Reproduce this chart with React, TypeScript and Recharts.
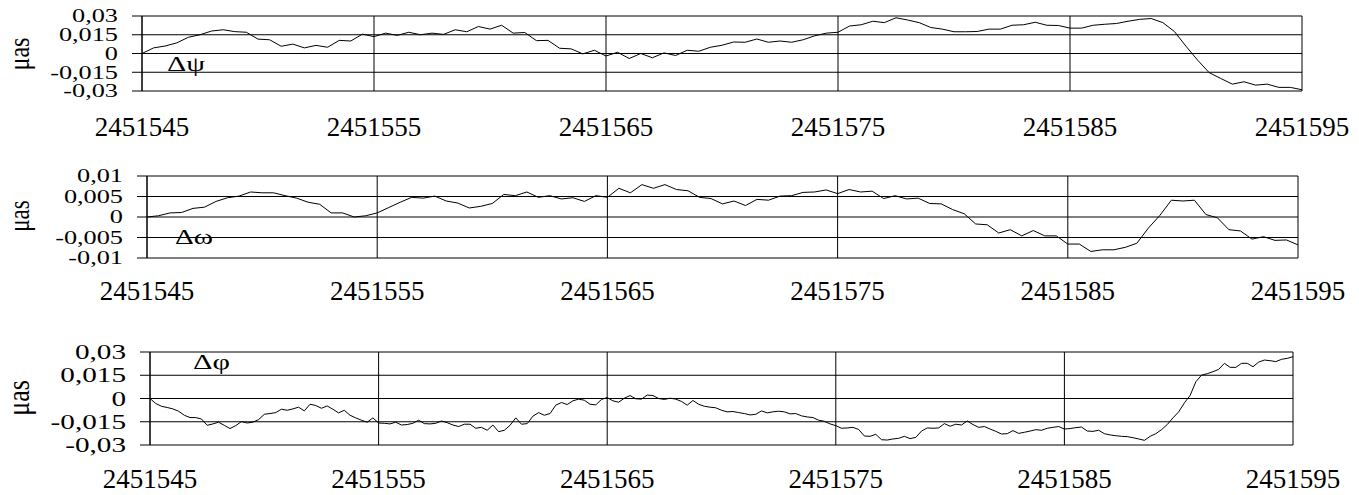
import React from "react";
import { CartesianGrid, Line, LineChart, XAxis, YAxis } from "recharts";

const W = 1359;
const H = 495;
const FONT = '"Liberation Serif", "Times New Roman", serif';

// julian days on the x axis
const dayTicks = [2451545, 2451555, 2451565, 2451575, 2451585, 2451595];
const psiTicks = [-0.03, -0.015, 0, 0.015, 0.03];
const omegaTicks = [-0.01, -0.005, 0, 0.005, 0.01];
const phiTicks = [-0.03, -0.015, 0, 0.015, 0.03];

// Δψ, every half day from 2451545
const psi = [
  0, 0.0045, 0.006, 0.0085, 0.013, 0.015, 0.018, 0.019, 0.0175, 0.017,
  0.0115, 0.011, 0.0058, 0.0075, 0.0045, 0.0065, 0.005, 0.0105, 0.01, 0.0155,
  0.0135, 0.0163, 0.0145, 0.017, 0.015, 0.0163, 0.0153, 0.019, 0.0174, 0.0216,
  0.0195, 0.0226, 0.0163, 0.0168, 0.0103, 0.0105, 0.0042, 0.0037, -0.0003, 0.0026,
  -0.002, 0.001, -0.004, 0, -0.0034, 0.0005, -0.0016, 0.0026, 0.0018, 0.005,
  0.0066, 0.0092, 0.009, 0.0116, 0.009, 0.01, 0.009, 0.011, 0.0142, 0.0163,
  0.017, 0.022, 0.023, 0.0258, 0.0247, 0.0286, 0.0268, 0.0247, 0.0208, 0.0195,
  0.0174, 0.0174, 0.0176, 0.0195, 0.0195, 0.0226, 0.023, 0.025, 0.0226, 0.0224,
  0.0203, 0.0203, 0.0226, 0.0234, 0.024, 0.0258, 0.0273, 0.028, 0.0247, 0.0176,
  0.0058, -0.0053, -0.0153, -0.02, -0.0245, -0.0226, -0.0253, -0.0245, -0.0271, -0.0271,
  -0.029,
];

// Δω, every half day
const omega = [
  0, 0.0003, 0.001, 0.0011, 0.0021, 0.0024, 0.0038, 0.0047, 0.0051, 0.0061,
  0.0059, 0.0059, 0.0052, 0.0046, 0.0036, 0.0031, 0.001, 0.001, 0, 0.0003,
  0.001, 0.0023, 0.0036, 0.0048, 0.0046, 0.0051, 0.0039, 0.0034, 0.0022, 0.0026,
  0.0033, 0.0055, 0.0052, 0.0061, 0.0048, 0.0052, 0.0044, 0.0047, 0.0038, 0.0052,
  0.0048, 0.007, 0.0059, 0.0079, 0.007, 0.0079, 0.0067, 0.0064, 0.0048, 0.0045,
  0.0032, 0.0039, 0.0028, 0.0043, 0.0041, 0.0051, 0.0052, 0.006, 0.0061, 0.0066,
  0.0057, 0.0067, 0.0061, 0.0063, 0.0045, 0.0052, 0.0044, 0.0046, 0.0033, 0.0032,
  0.0018, 0.0008, -0.0017, -0.0019, -0.0039, -0.0031, -0.0046, -0.0033, -0.0046, -0.0046,
  -0.0066, -0.0066, -0.0084, -0.008, -0.008, -0.0074, -0.0064, -0.0027, 0.0004, 0.0041,
  0.0039, 0.0041, 0.0006, -0.0002, -0.0031, -0.0034, -0.0054, -0.0048, -0.0057, -0.0056,
  -0.0068,
];

// Δφ, every quarter day (noisier series)
const phi = [
  0, -0.0032, -0.005, -0.0058, -0.0067, -0.0082, -0.0108, -0.0123, -0.0123, -0.0132,
  -0.0173, -0.0164, -0.0153, -0.0173, -0.0194, -0.0175, -0.0149, -0.0158, -0.0153, -0.0136,
  -0.0102, -0.0097, -0.0091, -0.0069, -0.0076, -0.0067, -0.0056, -0.008, -0.0037, -0.0045,
  -0.0063, -0.0048, -0.0069, -0.0093, -0.0076, -0.0108, -0.0125, -0.014, -0.0153, -0.0125,
  -0.0158, -0.016, -0.0164, -0.0153, -0.0171, -0.0168, -0.016, -0.014, -0.0162, -0.0164,
  -0.016, -0.0145, -0.0156, -0.0171, -0.0181, -0.0166, -0.0166, -0.0192, -0.0186, -0.0205,
  -0.0171, -0.0214, -0.0205, -0.0173, -0.0125, -0.0166, -0.0162, -0.0114, -0.0091, -0.0108,
  -0.0097, -0.0043, -0.0026, -0.0039, -0.0015, -0.0004, -0.0011, -0.0037, -0.0041, -0.0006,
  0.0006, -0.0015, -0.0024, 0.0002, 0.0019, -0.0002, -0.0004, 0.0022, 0.0019, 0,
  -0.0006, 0.0002, -0.0004, -0.0019, -0.0043, -0.0013, -0.0037, -0.005, -0.0056, -0.006,
  -0.0076, -0.0086, -0.0084, -0.0091, -0.0097, -0.0106, -0.0102, -0.008, -0.0093, -0.0086,
  -0.0082, -0.0086, -0.0099, -0.0097, -0.0112, -0.0119, -0.0123, -0.014, -0.0147, -0.0164,
  -0.0175, -0.0192, -0.019, -0.0186, -0.02, -0.0242, -0.0244, -0.0231, -0.0266, -0.0268,
  -0.0261, -0.0257, -0.0244, -0.0259, -0.0251, -0.021, -0.019, -0.0192, -0.019, -0.0162,
  -0.0179, -0.0166, -0.0171, -0.0145, -0.0168, -0.0186, -0.0181, -0.0197, -0.0212, -0.0229,
  -0.0227, -0.0207, -0.0225, -0.0218, -0.021, -0.0201, -0.0205, -0.0192, -0.0186, -0.0181,
  -0.0197, -0.0194, -0.0188, -0.0184, -0.021, -0.0212, -0.0205, -0.0227, -0.0235, -0.024,
  -0.0244, -0.0246, -0.0253, -0.0261, -0.027, -0.0244, -0.0227, -0.0201, -0.0168, -0.0125,
  -0.0086, -0.0028, 0.002, 0.0108, 0.0151, 0.016, 0.0173, 0.0188, 0.0227, 0.0201,
  0.0201, 0.0227, 0.0227, 0.0205, 0.0235, 0.0248, 0.0244, 0.0238, 0.0253, 0.0259,
  0.027,
];

const toRows = (vals: number[], step: number) =>
  vals.map((v, i) => ({ day: 2451545 + i * step, v }));

type Box = { left: number; right: number; top: number; bottom: number };

type PanelProps = {
  data: { day: number; v: number }[];
  ticks: number[];
  box: Box;
  yFont: number;
  xBaseline: number;
};

const fmt = (v: number) => String(v).replace(".", ",");

function Panel({ data, ticks, box, yFont, xBaseline }: PanelProps) {
  const xAxisH = 40;

  const YTick = (props: any) => {
    const { x, y, payload } = props;
    return (
      <text
        transform={`translate(${x} ${y + yFont * 0.35}) scale(1.46 1)`}
        textAnchor="end"
        fontFamily={FONT}
        fontSize={yFont}
        fill="#000"
      >
        {fmt(payload.value)}
      </text>
    );
  };

  const XTick = (props: any) => {
    const { x, payload } = props;
    return (
      <text x={x} y={xBaseline} textAnchor="middle" fontFamily={FONT} fontSize={27} fill="#000">
        {payload.value}
      </text>
    );
  };

  return (
    <div style={{ position: "absolute", left: 0, top: 0 }}>
      <LineChart
        width={W}
        height={H}
        data={data}
        margin={{ top: box.top, left: 0, right: W - box.right, bottom: H - box.bottom - xAxisH }}
      >
        <CartesianGrid stroke="#000" strokeWidth={1} />
        <XAxis
          type="number"
          dataKey="day"
          domain={[2451545, 2451595]}
          ticks={dayTicks}
          interval={0}
          allowDataOverflow
          axisLine={false}
          tickLine={false}
          height={xAxisH}
          tick={XTick}
        />
        <YAxis
          type="number"
          domain={[ticks[0], ticks[ticks.length - 1]]}
          ticks={ticks}
          interval={0}
          allowDataOverflow
          width={box.left}
          axisLine={{ stroke: "#000" }}
          tickLine={{ stroke: "#000" }}
          tickSize={10}
          tickMargin={14}
          tick={YTick}
        />
        <Line
          type="linear"
          dataKey="v"
          stroke="#000"
          strokeWidth={1}
          dot={false}
          isAnimationActive={false}
        />
      </LineChart>
    </div>
  );
}

const UnitLabel = ({ x, y, size }: { x: number; y: number; size: number }) => (
  <text
    transform={`translate(${x} ${y}) rotate(-90) scale(1 1.25)`}
    textAnchor="middle"
    fontFamily={FONT}
    fontSize={size}
    fill="#000"
  >
    μas
  </text>
);

const SeriesLabel = ({ x, y, w, text }: { x: number; y: number; w: number; text: string }) => (
  <text
    x={x}
    y={y}
    textLength={w}
    lengthAdjust="spacingAndGlyphs"
    fontFamily={FONT}
    fontSize={20}
    fill="#000"
  >
    {text}
  </text>
);

export default function App() {
  return (
    <div
      style={{ position: "absolute", left: 0, top: 0, width: W, height: H, background: "#fff" }}
    >
      <Panel
        data={toRows(psi, 0.5)}
        ticks={psiTicks}
        box={{ left: 142, right: 1302, top: 16, bottom: 91 }}
        yFont={18}
        xBaseline={136}
      />
      <Panel
        data={toRows(omega, 0.5)}
        ticks={omegaTicks}
        box={{ left: 147, right: 1298, top: 176, bottom: 258 }}
        yFont={18}
        xBaseline={300}
      />
      <Panel
        data={toRows(phi, 0.25)}
        ticks={phiTicks}
        box={{ left: 150, right: 1293, top: 352, bottom: 445 }}
        yFont={20}
        xBaseline={488}
      />
      <svg
        width={W}
        height={H}
        style={{ position: "absolute", left: 0, top: 0, pointerEvents: "none" }}
      >
        <UnitLabel x={29} y={54} size={24} />
        <UnitLabel x={29} y={216} size={23} />
        <UnitLabel x={29} y={398} size={26} />
        <SeriesLabel x={167} y={71} w={38} text="Δψ" />
        <SeriesLabel x={175} y={244} w={38} text="Δω" />
        <SeriesLabel x={193} y={369} w={37} text="Δφ" />
      </svg>
    </div>
  );
}
